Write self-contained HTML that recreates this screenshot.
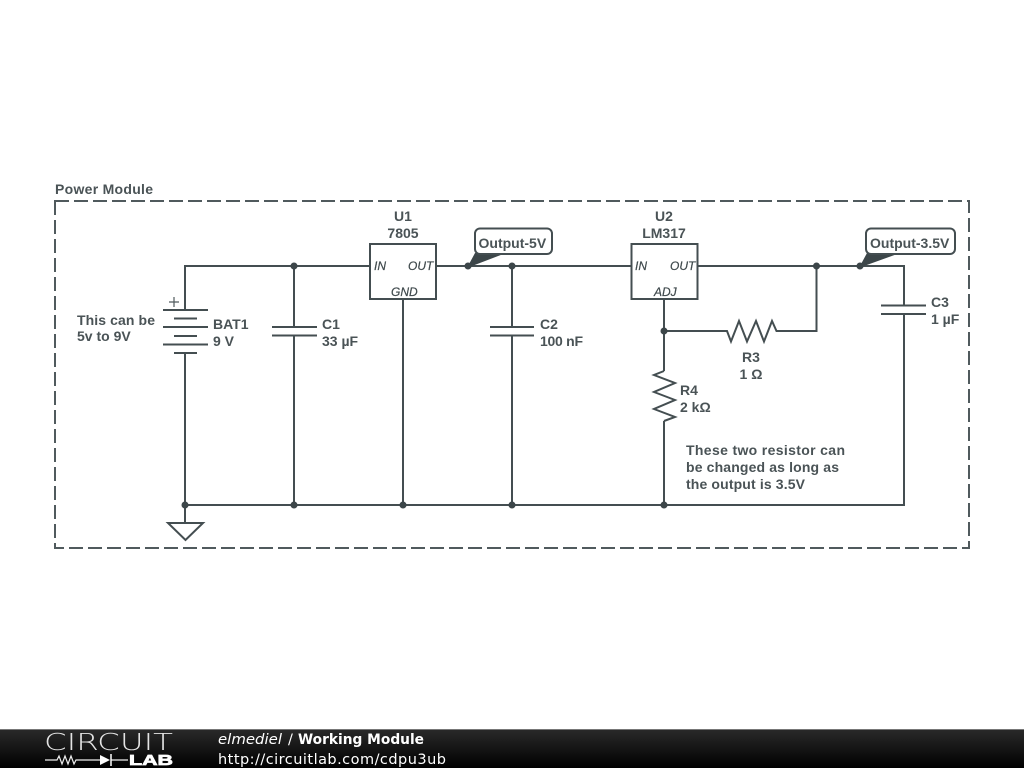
<!DOCTYPE html>
<html><head><meta charset="utf-8"><style>
html,body{margin:0;padding:0;background:#fff;width:1024px;height:768px;overflow:hidden}
svg{display:block}
.l{font:bold 14px "Liberation Sans",sans-serif;fill:#4a5356}
.c{text-anchor:middle}
.p{font:italic 12px "Liberation Sans",sans-serif;fill:#3f494c;stroke:#3f494c;stroke-width:.2}
.w{fill:none;stroke:#444e51;stroke-width:2}
</style></head><body>
<svg width="1024" height="768" viewBox="0 0 1024 768" xmlns="http://www.w3.org/2000/svg">
<defs><linearGradient id="g" x1="0" y1="0" x2="0" y2="1"><stop offset="0" stop-color="#2a2a2a"/><stop offset="1" stop-color="#000"/></linearGradient></defs>
<rect x="55" y="201" width="914" height="347" fill="none" stroke="#505a5d" stroke-width="2" stroke-dasharray="14 5"/>
<text class="l" x="55" y="194" textLength="98">Power Module</text>

<path class="w" d="M185 310V266H370M436 266H631M697 266H904V305M904 314V505H185M185 353V523M294 266V327M294 335V505M403 299V505M512 266V327M512 335V505M664 299V371M664 421V505M664 331H727L731 341.500 739 321 747 341.500 756 321 764 341.500 772 321 776.500 331H816.500V266M664 371L654 375 675 383 654 392 675 400 654 409 675 417 664 421"/>
<path class="w" d="M163 310H208M174 318.500H197M163 327H208M174 336H197M163 344.500H208M174 353H197M272 327H317M272 335.500H317M490 327H534M490 335.500H534M881 305.500H926M881 314H926M168 523H203L185.500 540Z"/>
<path d="M169 302H179M174 297V307" stroke="#505a5d" stroke-width="1.200" fill="none"/>
<rect x="370" y="244" width="66" height="55" fill="#fff" class="w"/>
<rect x="631.500" y="244" width="66" height="55" fill="#fff" class="w"/>
<g fill="#3c4649">
<circle cx="294" cy="266" r="3.500"/><circle cx="468" cy="266" r="3.500"/><circle cx="512" cy="266" r="3.500"/><circle cx="816.500" cy="266" r="3.500"/><circle cx="860" cy="266" r="3.500"/><circle cx="664" cy="331" r="3.500"/>
<circle cx="185" cy="505" r="3.500"/><circle cx="294" cy="505" r="3.500"/><circle cx="403" cy="505" r="3.500"/><circle cx="512" cy="505" r="3.500"/><circle cx="664" cy="505" r="3.500"/>
<path d="M468 266L475 253H506L472 266ZM860 266L867 253H900L864 266Z"/>
</g>
<rect x="475" y="228.500" width="77" height="25.500" rx="5" fill="#fff" stroke="#444e51" stroke-width="2"/>
<rect x="866" y="228.500" width="89" height="25.500" rx="5" fill="#fff" stroke="#444e51" stroke-width="2"/>
<text class="l" x="478.500" y="248">Output-5V</text>
<text class="l" x="870" y="248">Output-3.5V</text>

<text class="l c" x="403" y="221">U1</text><text class="l c" x="403" y="238">7805</text>
<text class="l c" x="664" y="221">U2</text><text class="l c" x="664" y="238">LM317</text>
<text class="p" x="374" y="270">IN</text><text class="p" x="408" y="270">OUT</text><text class="p" x="391" y="296">GND</text>
<text class="p" x="635" y="270">IN</text><text class="p" x="670" y="270">OUT</text><text class="p" x="654" y="296">ADJ</text>
<text class="l" x="77" y="325" textLength="78">This can be</text><text class="l" x="77" y="341">5v to 9V</text>
<text class="l" x="213" y="329">BAT1</text><text class="l" x="213" y="346">9 V</text>
<text class="l" x="322" y="329">C1</text><text class="l" x="322" y="346">33 µF</text>
<text class="l" x="540" y="329">C2</text><text class="l" x="540" y="346" textLength="43">100 nF</text>
<text class="l" x="931" y="307">C3</text><text class="l" x="931" y="324">1 µF</text>
<text class="l c" x="751" y="362">R3</text><text class="l c" x="751" y="379">1 Ω</text>
<text class="l" x="680" y="395">R4</text><text class="l" x="680" y="412">2 kΩ</text>
<text class="l" x="686" y="455" textLength="159">These two resistor can</text>
<text class="l" x="686" y="472" textLength="153">be changed as long as</text>
<text class="l" x="686" y="489" textLength="119">the output is 3.5V</text>

<rect x="0" y="729" width="1024" height="39" fill="url(#g)"/>
<rect x="0" y="729" width="1024" height="1" fill="#777"/>
<text x="44" y="750" font-family="DejaVu Sans,sans-serif" font-weight="200" font-size="23" fill="#e4e4e4" textLength="129" lengthAdjust="spacingAndGlyphs">CIRCUIT</text>
<path d="M45 760H57L59 756 62 764 65 756 68 764 71 756 74 764 76 760H100M111 760H128" stroke="#eee" stroke-width="1.200" fill="none"/>
<path d="M100 755V765L110 760Z" fill="#fff"/><path d="M111 754V766" stroke="#fff" stroke-width="1.500"/>
<text x="129" y="765" font-family="Liberation Sans,sans-serif" font-weight="bold" font-size="14.500" fill="#fff" stroke="#fff" stroke-width=".7" textLength="44" lengthAdjust="spacingAndGlyphs">LAB</text>
<text y="744" font-family="DejaVu Sans,sans-serif" font-size="14.500" fill="#fff"><tspan x="218" font-style="italic" textLength="64" lengthAdjust="spacingAndGlyphs">elmediel</tspan><tspan x="288">/</tspan><tspan x="298" font-weight="bold" textLength="126" lengthAdjust="spacingAndGlyphs">Working Module</tspan></text>
<text x="218" y="764" font-family="DejaVu Sans,sans-serif" font-size="14.500" fill="#fff" textLength="228">http://circuitlab.com/cdpu3ub</text>
</svg>
</body></html>
